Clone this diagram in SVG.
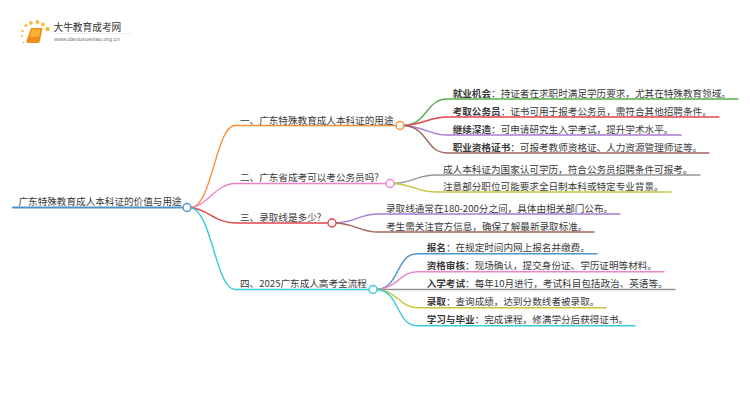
<svg xmlns="http://www.w3.org/2000/svg" width="750" height="410" viewBox="0 0 750 410">
<style>
text{font-family:"Noto Sans CJK SC","Liberation Sans",sans-serif;font-size:9.6px;fill:#3a3a3a}
.b{font-weight:700}
.c{fill:none;stroke-width:1.4;stroke-linecap:round}
.n{fill:#fff;stroke-width:1.4}
</style>
<rect width="750" height="410" fill="#fff"/>
<g id="logo">
<g fill="#f9bb3c"><circle cx="47.500" cy="29" r="2.300"/><circle cx="43" cy="24.500" r="2"/><circle cx="37.500" cy="22" r="1.900"/><circle cx="31" cy="23" r="1.900"/><circle cx="26" cy="25.500" r="1.500"/><circle cx="22.500" cy="31" r="1.200"/><circle cx="22" cy="36" r="1.100"/><circle cx="23.500" cy="42.500" r="1"/></g>
<path d="M31 28h11.500l-2.500 13q-.5 2-2.500 2H28q-2 0-1.500-2.500z" fill="#f08c1a"/>
<path d="M32 29.500h8.500l-1.500 7h-9z" fill="#fbb63a"/>
<text x="53.500" y="30.500" style="font-size:9.700px;fill:#333">大牛教育成考网</text>
<rect x="54" y="33" width="78" height="0.600" fill="#e4e4e4"/>
<text x="54" y="40.800" style="font-family:'Liberation Sans',sans-serif;font-size:5.800px;fill:#777">www.daniuxuexiao.org.cn</text>
</g>
<g id="connectors">
<path class="c" style="stroke-width:2" stroke="#4f94c9" d="M13 207.500H183"/>
<path class="c" stroke="#f98e3c" d="M191 207.500C212 207 216 125.500 235 125.500H396"/>
<path class="c" stroke="#ec83c9" d="M191 207.500C207 206 216 183.500 235 183.500H386"/>
<path class="c" stroke="#e0464f" d="M191 207.500C207 209 216 223 235 223H328"/>
<path class="c" stroke="#39cbdd" d="M191 207.500C212 212 216 289.500 235 289.500H369"/>
<path class="c" stroke="#55b04a" d="M404 125.500C428 124 426 99 447 99H738"/>
<path class="c" stroke="#e0464f" d="M404 125.500C425 124 430 117 447 117H719"/>
<path class="c" stroke="#a97bd1" d="M404 125.500C425 127 430 135 447 135H681"/>
<path class="c" stroke="#a0665c" d="M404 125.500C428 127 426 153 447 153H709"/>
<path class="c" stroke="#959595" d="M394 183.500C414 182 418 175 435 175H700"/>
<path class="c" stroke="#c5c63c" d="M394 183.500C414 185 418 192 435 192H671"/>
<path class="c" stroke="#a97bd1" d="M336 223C356 222 360 214 378 214H620"/>
<path class="c" stroke="#a0665c" d="M336 223C356 224 360 232 378 232H594"/>
<path class="c" stroke="#4f94c9" d="M377 289.500C400 288 396 253.700 417 253.700H597"/>
<path class="c" stroke="#ec83c9" d="M377 289.500C398 288 400 271.700 417 271.700H664"/>
<path class="c" stroke="#959595" d="M377 289.500H675"/>
<path class="c" stroke="#c5c63c" d="M377 289.500C398 291 400 307.700 417 307.700H606"/>
<path class="c" stroke="#39cbdd" d="M377 289.500C400 291 396 325.700 417 325.700H635"/>
</g>
<g id="root"><text x="18.500" y="205">广东特殊教育成人本科证的价值与用途</text><circle class="n" stroke="#4f94c9" cx="187" cy="207.500" r="4"/></g>
<g id="b1"><text x="240" y="123.500">一、广东特殊教育成人本科证的用途</text><circle class="n" stroke="#f98e3c" cx="400" cy="125.500" r="4"/></g>
<g id="b2"><text x="240" y="181">二、广东省成考可以考公务员吗?</text><circle class="n" stroke="#ec83c9" cx="390" cy="183.500" r="4"/></g>
<g id="b3"><text x="240" y="220.500">三、录取线是多少?</text><circle class="n" stroke="#e0464f" cx="332" cy="223" r="4"/></g>
<g id="b4"><text x="240" y="287">四、2025广东成人高考全流程</text><circle class="n" stroke="#39cbdd" cx="373" cy="289.500" r="4"/></g>
<g id="l1"><text x="452.700" y="96.500"><tspan class="b">就业机会</tspan>：持证者在求职时满足学历要求，尤其在特殊教育领域。</text></g>
<g id="l2"><text x="452.700" y="114.500"><tspan class="b">考取公务员</tspan>：证书可用于报考公务员，需符合其他招聘条件。</text></g>
<g id="l3"><text x="452.700" y="132.500"><tspan class="b">继续深造</tspan>：可申请研究生入学考试，提升学术水平。</text></g>
<g id="l4"><text x="452.700" y="150.500"><tspan class="b">职业资格证书</tspan>：可报考教师资格证、人力资源管理师证等。</text></g>
<g id="l5"><text x="443" y="172.500">成人本科证为国家认可学历，符合公务员招聘条件可报考。</text></g>
<g id="l6"><text x="443" y="189.500">注意部分职位可能要求全日制本科或特定专业背景。</text></g>
<g id="l7"><text x="386" y="211.500">录取线通常在180-200分之间，具体由相关部门公布。</text></g>
<g id="l8"><text x="386" y="229.500">考生需关注官方信息，确保了解最新录取标准。</text></g>
<g id="l9"><text x="426.700" y="251"><tspan class="b">报名</tspan>：在规定时间内网上报名并缴费。</text></g>
<g id="l10"><text x="426.700" y="269"><tspan class="b">资格审核</tspan>：现场确认，提交身份证、学历证明等材料。</text></g>
<g id="l11"><text x="426.700" y="287"><tspan class="b">入学考试</tspan>：每年10月进行，考试科目包括政治、英语等。</text></g>
<g id="l12"><text x="426.700" y="305"><tspan class="b">录取</tspan>：查询成绩，达到分数线者被录取。</text></g>
<g id="l13"><text x="426.700" y="323"><tspan class="b">学习与毕业</tspan>：完成课程，修满学分后获得证书。</text></g>
</svg>
